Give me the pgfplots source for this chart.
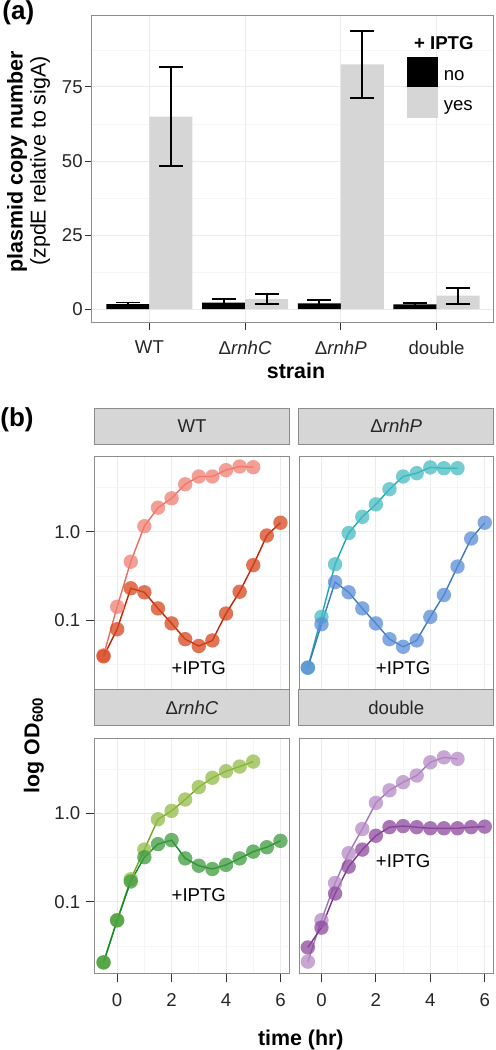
\documentclass[border=0pt]{standalone}
\usepackage{fontspec}
\setmainfont{Liberation Sans}
\usepackage{pgfplots}
\pgfplotsset{compat=1.18}
\usepackage{pgfplotstable}
\pgfkeys{/pgf/number format/assume math mode=true}

\definecolor{gridmaj}{HTML}{EBEBEB}
\definecolor{gridmin}{HTML}{F5F5F5}
\definecolor{border}{HTML}{8C8C8C}
\definecolor{strip}{HTML}{D6D6D6}
\definecolor{bargray}{HTML}{D6D6D6}
\definecolor{wtpale}{HTML}{F07F73}
\definecolor{wtpaleL}{HTML}{EF6B5F}
\definecolor{wtdark}{HTML}{D6461F}
\definecolor{wtdarkL}{HTML}{C42100}
\definecolor{ppale}{HTML}{47BCC2}
\definecolor{ppaleL}{HTML}{1AA9B4}
\definecolor{pdark}{HTML}{5A8DD6}
\definecolor{pdarkL}{HTML}{3A78C4}
\definecolor{cpale}{HTML}{93BB48}
\definecolor{cpaleL}{HTML}{78A61A}
\definecolor{cdark}{HTML}{3D9B3D}
\definecolor{cdarkL}{HTML}{0C8A2C}
\definecolor{dpale}{HTML}{B58AC6}
\definecolor{dpaleL}{HTML}{A274B6}
\definecolor{ddark}{HTML}{8E4A9E}
\definecolor{ddarkL}{HTML}{7A3189}

\newcommand{\tickfont}{\fontsize{9.3}{11}\selectfont}
\newcommand{\labfont}{\fontsize{10.7}{12.5}\selectfont}

% growth curves: t, OD600
\pgfplotstableread{
t y
-0.5 0.040
0 0.142
0.5 0.46
1 1.16
1.5 1.88
2 2.40
2.5 3.46
3 4.24
3.5 4.24
4 5.00
4.5 5.50
5 5.40
}\wtpaleT
\pgfplotstableread{
t y
-0.5 0.039
0 0.079
0.5 0.23
1 0.207
1.5 0.136
2 0.092
2.5 0.061
3 0.051
3.5 0.059
4 0.119
4.5 0.21
5 0.42
5.5 0.91
6 1.27
}\wtdarkT
\pgfplotstableread{
t y
-0.5 0.029
0 0.109
0.5 0.43
1 0.97
1.5 1.48
2 2.05
2.5 3.04
3 4.24
3.5 4.62
4 5.37
4.5 5.26
5 5.26
}\ppaleT
\pgfplotstableread{
t y
-0.5 0.029
0 0.090
0.5 0.27
1 0.207
1.5 0.136
2 0.092
2.5 0.061
3 0.050
3.5 0.059
4 0.109
4.5 0.193
5 0.405
5.5 0.84
6 1.27
}\pdarkT
\pgfplotstableread{
t y
-0.5 0.0206
0 0.062
0.5 0.18
1 0.39
1.5 0.86
2 1.07
2.5 1.44
3 1.99
3.5 2.54
4 3.01
4.5 3.40
5 3.87
}\cpaleT
\pgfplotstableread{
t y
-0.5 0.0206
0 0.0616
0.5 0.17
1 0.32
1.5 0.45
2 0.50
2.5 0.31
3 0.256
3.5 0.235
4 0.262
4.5 0.31
5 0.37
5.5 0.415
6 0.49
}\cdarkT
\pgfplotstableread{
t y
-0.5 0.021
0 0.062
0.5 0.163
1 0.355
1.5 0.667
2 1.32
2.5 1.83
3 2.26
3.5 2.69
4 3.80
4.5 4.32
5 4.15
}\dpaleT
\pgfplotstableread{
t y
-0.5 0.0304
0 0.051
0.5 0.124
1 0.25
1.5 0.39
2 0.56
2.5 0.70
3 0.72
3.5 0.70
4 0.68
4.5 0.68
5 0.68
5.5 0.70
6 0.71
}\ddarkT

\pgfplotsset{
  ggbase/.style={
    scale only axis,
    grid=both,
    major grid style={color=gridmaj, line width=0.5pt},
    minor grid style={color=gridmin, line width=0.35pt},
    axis line style={draw=border, line width=0.5pt},
    tick align=outside,
    minor tick length=0pt,
    tick style={color=black!80, line width=0.5pt},
    xtick pos=left, ytick pos=left,
    tick label style={font=\tickfont, text=black!85},
  },
  ggfacet/.style={
    ggbase,
    width=97.3pt, height=117.5pt,
    xmin=-0.825, xmax=6.325,
    ymin=0.0155, ymax=7.1,
    xtick={0,2,4,6}, minor xtick={-1,1,3,5},
    ytick={0.1,1}, yticklabels={0.1,1.0},
    minor ytick={0.0316,0.316,3.16},
    major tick length=4.5pt,
    xticklabel style={inner sep=0pt, yshift=-5.5pt},
    yticklabel style={inner sep=0pt, xshift=-2.5pt},
    title style={at={(0.5,1)}, anchor=south, yshift=0pt, fill=strip, draw=border,
      line width=0.5pt, minimum width=97.3pt, minimum height=18pt, inner sep=0pt,
      font=\tickfont, text=black!85},
  },
  ggtoprow/.style={xticklabels={}, major x tick style={draw=none}},
  ggrightcol/.style={yticklabels={}, major y tick style={draw=none}},
  ggpts/.style={only marks, mark=*, mark size=3.6pt,
    mark options={draw=#1, fill=#1, draw opacity=0, fill opacity=0.75}},
  ggln/.style={no marks, color=#1, line width=0.7pt},
  ggerr/.style={draw=none, mark=none,
    error bars/.cd, y dir=both, y explicit,
    error bar style={draw=black, line width=0.9pt},
    error mark options={rotate=90, draw=black, line width=0.9pt, mark size=6pt}},
}

\begin{document}
\begin{tikzpicture}
\path[use as bounding box] (0,0) rectangle (247.5pt,-525pt);

% ---------------- panel (a)
\begin{axis}[ggbase,
  at={(46pt,-7.5pt)}, anchor=north west,
  width=201pt, height=154pt,
  xmin=-0.6, xmax=3.6, ymin=-4.7, ymax=99.3,
  xtick={0,1,2,3}, xticklabels={WT, Δ\textit{rnhC}, Δ\textit{rnhP}, double},
  ytick={0,25,50,75}, minor ytick={12.5,37.5,62.5,87.5},
  major tick length=3.5pt,
  xticklabel style={inner sep=0pt, yshift=-5.3pt},
  yticklabel style={inner sep=0pt, xshift=-1pt},
]
\addplot[ybar, bar width=0.45, bar shift=-0.225, fill=black, draw=none]
  coordinates {(0,1.7) (1,2.2) (2,1.9) (3,1.6)};
\addplot[ybar, bar width=0.45, bar shift=0.225, fill=bargray, draw=none]
  coordinates {(0,65.0) (1,3.4) (2,82.6) (3,4.5)};
% error bars (no IPTG at x-0.225, IPTG at x+0.225)
\addplot[ggerr] coordinates {
  (-0.225,1.7) +- (0,0.5) (0.775,2.2) +- (0,1.2) (1.775,1.9) +- (0,1.1) (2.775,1.6) +- (0,0.5)};
\addplot[ggerr] coordinates {
  (0.225,65.0) +- (0,16.7) (1.225,3.4) +- (0,1.6) (2.225,82.6) +- (0,11.3) (3.225,4.5) +- (0,2.7)};
\end{axis}

% legend (a)
\node[anchor=west, font=\tickfont\bfseries] at (203.5pt,-21.5pt) {+ IPTG};
\fill[black] (203.5pt,-28.5pt) rectangle (219pt,-43.5pt);
\fill[bargray] (203.5pt,-43.5pt) rectangle (219pt,-59pt);
\node[anchor=base west, font=\tickfont, inner sep=0pt] at (221.7pt,-40pt) {no};
\node[anchor=base west, font=\tickfont, inner sep=0pt] at (221.7pt,-55pt) {yes};

% labels (a)
\node[anchor=west, font=\fontsize{13}{15}\selectfont\bfseries, inner sep=0pt] at (1pt,-6.5pt) {(a)};
\node[rotate=90, font=\labfont\bfseries, inner sep=0pt] at (8.5pt,-81pt) {plasmid copy number};
\node[rotate=90, font=\labfont, inner sep=0pt] at (20pt,-80.5pt) {(zpdE relative to sigA)};
\node[anchor=base, font=\labfont\bfseries, inner sep=0pt] at (148pt,-189pt) {strain};

% ---------------- panel (b)
\node[anchor=west, font=\fontsize{13}{15}\selectfont\bfseries, inner sep=0pt] at (0pt,-210pt) {(b)};

\begin{axis}[ymode=log, ggfacet, ggtoprow, at={(47.35pt,-228.35pt)}, anchor=north west, title={WT}]
\addplot[ggpts=wtpale] table {\wtpaleT};
\addplot[ggln=wtpaleL] table {\wtpaleT};
\addplot[ggpts=wtdark] table {\wtdarkT};
\addplot[ggln=wtdarkL] table {\wtdarkT};
\node[font=\tickfont] at (axis cs:3,0.029) {+IPTG};
\end{axis}

\begin{axis}[ymode=log, ggfacet, ggtoprow, ggrightcol, at={(149.5pt,-228.35pt)}, anchor=north west, title={Δ\textit{rnhP}}]
\addplot[ggpts=ppale] table {\ppaleT};
\addplot[ggln=ppaleL] table {\ppaleT};
\addplot[ggpts=pdark] table {\pdarkT};
\addplot[ggln=pdarkL] table {\pdarkT};
\node[font=\tickfont] at (axis cs:3,0.029) {+IPTG};
\end{axis}

\begin{axis}[ymode=log, ggfacet, at={(47.35pt,-369.15pt)}, anchor=north west, title={Δ\textit{rnhC}}]
\addplot[ggpts=cpale] table {\cpaleT};
\addplot[ggln=cpaleL] table {\cpaleT};
\addplot[ggpts=cdark] table {\cdarkT};
\addplot[ggln=cdarkL] table {\cdarkT};
\node[font=\tickfont] at (axis cs:3,0.118) {+IPTG};
\end{axis}

\begin{axis}[ymode=log, ggfacet, ggrightcol, at={(149.5pt,-369.15pt)}, anchor=north west, title={double}]
\addplot[ggpts=dpale] table {\dpaleT};
\addplot[ggln=dpaleL] table {\dpaleT};
\addplot[ggpts=ddark] table {\ddarkT};
\addplot[ggln=ddarkL] table {\ddarkT};
\node[font=\tickfont] at (axis cs:3,0.286) {+IPTG};
\end{axis}

\node[anchor=base, rotate=90, font=\labfont\bfseries, inner sep=0pt] at (19.75pt,-372.5pt) {log OD\textsubscript{600}};
\node[anchor=base, font=\labfont\bfseries, inner sep=0pt] at (150.4pt,-522.5pt) {time (hr)};

\end{tikzpicture}
\end{document}
